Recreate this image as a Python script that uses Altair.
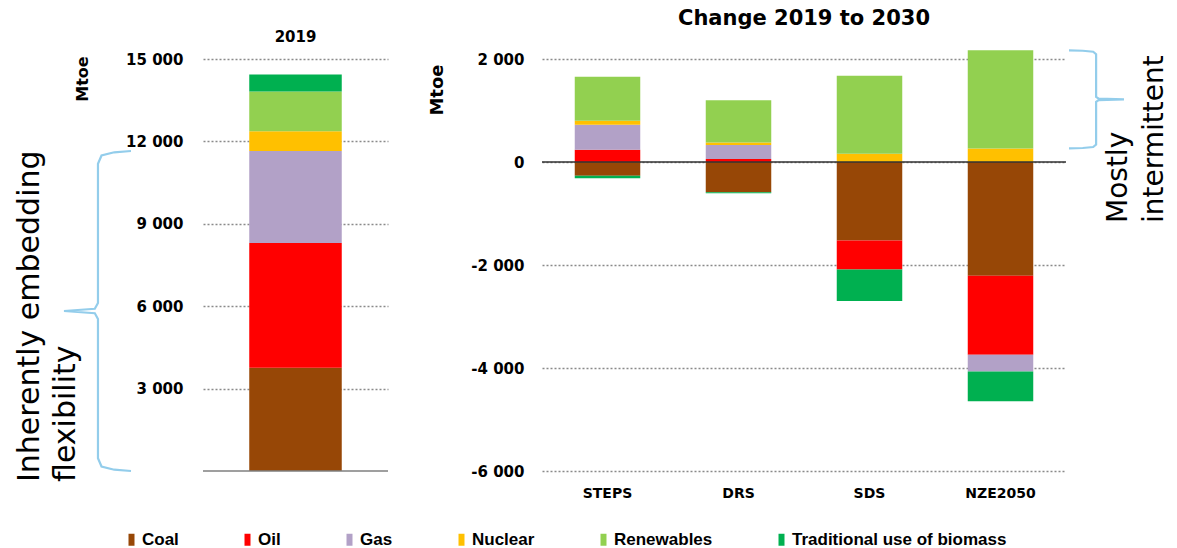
import altair as alt
import pandas as pd

# ---------------- data ----------------
categories = ["Coal", "Oil", "Gas", "Nuclear", "Renewables", "Traditional use of biomass"]
colors = ["#974706", "#FF0000", "#B2A1C7", "#FFC000", "#92D050", "#00B050"]

period_2019 = ["2019"]
values_2019 = [3760, 4540, 3350, 715, 1455, 620]

scenarios = ["STEPS", "DRS", "SDS", "NZE2050"]
coal_chg = [-265, -588, -1524, -2207]
oil_chg = [238, 58, -561, -1537]
gas_chg = [484, 271, 0, -322]
nuclear_chg = [78, 51, 161, 264]
renew_chg = [857, 820, 1516, 1904]
biomass_chg = [-52, -20, -614, -580]

left_ticks = [3000, 6000, 9000, 12000, 15000]
right_ticks = [-6000, -4000, -2000, 0, 2000]

left_title = "2019"
right_title = "Change 2019 to 2030"
unit_label = "Mtoe"
left_note = ["Inherently embedding", "flexibility"]
right_note = ["Mostly", "intermittent"]

# normalised curly-brace outline (u: 0 = tip side, 1 = open side; v: 0..1 along span)
brace_u = [1.0, 0.75, 0.56, 0.507, 0.507, 0.46, 0.0, 0.46, 0.507, 0.507, 0.56, 0.75, 1.0]
brace_v = [0.0, 0.004, 0.014, 0.04, 0.475, 0.493, 0.5, 0.507, 0.525, 0.96, 0.986, 0.996, 1.0]

FONT = "DejaVu Sans"
BRACE_COLOR = "#93CDEB"
LEFT_W, RIGHT_W, H = 185, 524, 412

# ---------------- tables ----------------
df_left = pd.DataFrame({
    "period": period_2019 * len(categories),
    "source": categories,
    "value": values_2019,
    "rank": list(range(len(categories))),
})

changes = [coal_chg, oil_chg, gas_chg, nuclear_chg, renew_chg, biomass_chg]
rows = []
for k, cat in enumerate(categories):
    for j, sc in enumerate(scenarios):
        rows.append({"scenario": sc, "source": cat, "value": changes[k][j], "rank": k})
df_right = pd.DataFrame(rows)

# brace spans derived from the data
flex_hi = sum(values_2019[:3])          # coal + oil + gas in 2019
nze = scenarios.index("NZE2050")
int_lo = nuclear_chg[nze]
int_hi = nuclear_chg[nze] + renew_chg[nze]


def brace_df(lo, hi):
    return pd.DataFrame({
        "u": brace_u,
        "value": [lo + v * (hi - lo) for v in brace_v],
        "i": list(range(len(brace_u))),
    })


color_scale = alt.Scale(domain=categories, range=colors)
y_left = alt.Scale(domain=[0, 15000], nice=False, zero=False)
y_right = alt.Scale(domain=[-6000, 2000], nice=False, zero=False)

legend = alt.Legend(
    title=None, orient="none", legendX=-80, legendY=472, direction="horizontal", columns=6,
    symbolType="M-0.5,-1H0.5V1H-0.5Z", symbolSize=144, symbolStrokeWidth=0, symbolOpacity=1,
    labelFont="Liberation Sans", labelFontSize=17, labelFontWeight="bold", labelColor="black",
    labelOffset=2, columnPadding=60, labelLimit=400,
)

label_expr = "(datum.value < 0 ? '-' : '') + replace(format(abs(datum.value), ','), ',', ' ')"

axis_common = dict(
    title=None, grid=True, gridDash=[2, 2], gridColor="#8a8a8a", gridWidth=1.5,
    domain=False, ticks=False, labelFont=FONT, labelFontSize=15, labelFontWeight="bold",
    labelColor="black", labelExpr=label_expr,
)


def note(text, x, y, size, weight="normal", align="left"):
    return alt.Chart(pd.DataFrame({"t": [text]})).mark_text(
        angle=270, align=align, baseline="middle", font=FONT, fontSize=size,
        fontWeight=weight, color="black"
    ).encode(x=alt.value(x), y=alt.value(y), text="t:N")


def heading(text, x, y, size):
    return alt.Chart(pd.DataFrame({"t": [text]})).mark_text(
        align="center", baseline="middle", font=FONT, fontSize=size, fontWeight="bold", color="black"
    ).encode(x=alt.value(x), y=alt.value(y), text="t:N")


# ---------------- left panel ----------------
bars_left = alt.Chart(df_left).mark_bar().encode(
    x=alt.X("period:N", axis=None, scale=alt.Scale(paddingInner=0.5, paddingOuter=0.25)),
    y=alt.Y("value:Q", scale=y_left,
            axis=alt.Axis(values=left_ticks, labelPadding=20, **axis_common)),
    color=alt.Color("source:N", scale=color_scale, legend=legend, sort=categories),
    order=alt.Order("rank:Q"),
)
base_left = alt.Chart(pd.DataFrame({"value": [0]})).mark_rule(
    color="#7f7f7f", strokeWidth=1.3).encode(y=alt.Y("value:Q", scale=y_left))
brace_left = alt.Chart(brace_df(0, flex_hi)).mark_line(
    color=BRACE_COLOR, strokeWidth=2.2).encode(
    x=alt.X("u:Q", scale=alt.Scale(domain=[0, 1], range=[-139, -72]), axis=None),
    y=alt.Y("value:Q", scale=y_left),
    order=alt.Order("i:Q"),
)
left = alt.layer(
    bars_left, base_left, brace_left,
    note(left_note[0], -173, 423, 30), note(left_note[1], -137, 423, 30),
    note(unit_label, -120, 20, 16, weight="bold", align="center"),
    heading(left_title, LEFT_W / 2, -22, 15),
).resolve_scale(x="independent").properties(width=LEFT_W, height=H)

# ---------------- right panel ----------------
bars_right = alt.Chart(df_right).mark_bar().encode(
    x=alt.X("scenario:N", sort=scenarios,
            scale=alt.Scale(paddingInner=0.5, paddingOuter=0.25),
            axis=alt.Axis(title=None, labelAngle=0, domain=False, ticks=False, labelPadding=15,
                          labelFont=FONT, labelFontSize=14, labelFontWeight="bold", labelColor="black")),
    y=alt.Y("value:Q", scale=y_right,
            axis=alt.Axis(values=right_ticks, labelPadding=18, **axis_common)),
    color=alt.Color("source:N", scale=color_scale, legend=legend, sort=categories),
    order=alt.Order("rank:Q"),
)
zero_right = alt.Chart(pd.DataFrame({"value": [0]})).mark_rule(
    color="#333333", strokeWidth=1.3).encode(y=alt.Y("value:Q", scale=y_right))
brace_right = alt.Chart(brace_df(int_lo, int_hi)).mark_line(
    color=BRACE_COLOR, strokeWidth=2.2).encode(
    x=alt.X("u:Q", scale=alt.Scale(domain=[0, 1], range=[582, 527]), axis=None),
    y=alt.Y("value:Q", scale=y_right),
    order=alt.Order("i:Q"),
)
right = alt.layer(
    bars_right, zero_right, brace_right,
    note(right_note[0], 577, 164, 28), note(right_note[1], 613, 164, 28),
    note(unit_label, -104, 31, 18, weight="bold", align="center"),
    heading(right_title, RIGHT_W / 2, -40, 21),
).resolve_scale(x="independent").properties(width=RIGHT_W, height=H)

chart = alt.hconcat(left, right, spacing=154, bounds="flush").properties(
    padding={"left": 6, "top": 0, "right": 0, "bottom": 0},
).configure_view(stroke=None)

chart.save("out.html", embed_options={"renderer": "svg", "actions": False})
